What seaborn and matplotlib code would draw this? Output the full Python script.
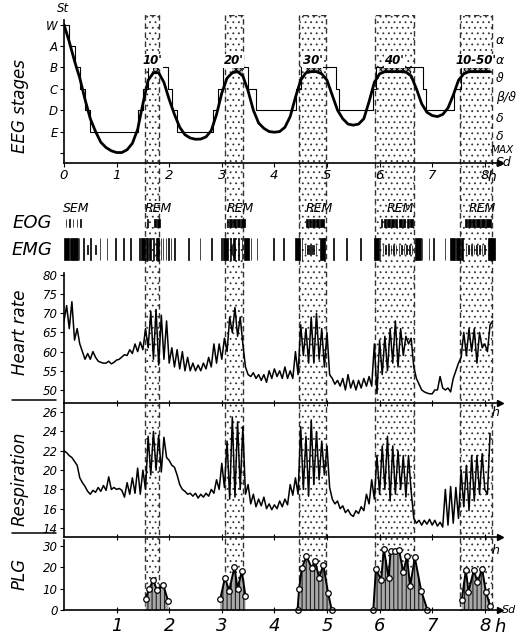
import numpy as np
import seaborn as sns
import matplotlib.pyplot as plt
from matplotlib.lines import Line2D

# REM periods (hours) and their length labels
rem_start = [1.54, 3.06, 4.47, 5.91, 7.53]
rem_end = [1.81, 3.40, 4.98, 6.65, 8.14]
rem_length = ["10'", "20'", "30'", "40'", "10-50'"]

stage_labels = ['', 'E', 'D', 'C', 'B', 'A', 'W']  # levels 0..6

# stepped hypnogram: time of each change (h) and stage reached
step_t = [0.0, 0.1, 0.2, 0.3, 0.4, 0.5, 1.4, 1.5, 1.6, 1.97, 2.05, 2.15, 2.83, 2.93,
          3.02, 3.5, 3.65, 4.41, 4.5, 5.17, 5.23, 5.87, 5.93, 6.83, 6.88, 7.41, 7.55, 8.16]
step_lvl = [6, 5, 4, 3, 2, 1, 2, 3, 4, 3, 2, 1, 2, 3,
            4, 3, 2, 3, 4, 3, 2, 3, 4, 3, 2, 3, 4, 4]

# smoothed sleep depth curve, every 0.1 h
eeg_curve = [6.0, 5.2, 4.3, 3.5, 2.5, 1.6, 1.0, 0.5, 0.25, 0.1,
             0.02, 0.02, 0.15, 0.45, 1.1, 2.3, 3.4, 3.75, 3.75, 3.3,
             2.5, 1.8, 1.2, 0.85, 0.7, 0.64, 0.65, 0.75, 1.05, 1.8,
             2.8, 3.5, 3.75, 3.8, 3.6, 2.9, 2.0, 1.4, 1.15, 1.0,
             0.97, 1.0, 1.2, 1.7, 2.6, 3.4, 3.75, 3.8, 3.8, 3.7,
             3.4, 2.7, 2.0, 1.6, 1.35, 1.3, 1.35, 1.6, 2.4, 3.3,
             3.7, 3.8, 3.8, 3.8, 3.8, 3.78, 3.6, 3.0, 2.3, 1.9,
             1.75, 1.7, 1.8, 2.1, 2.7, 3.4, 3.7, 3.8, 3.8, 3.8,
             3.8, 3.8]
eeg_t = np.round(np.arange(len(eeg_curve)) * 0.1, 2)

# heart rate (beats/min), every 0.05 h
hr = [68, 72, 66, 73, 63, 66, 62, 60, 58, 59.5,
      58, 60, 58.5, 57.5, 57.2, 57, 57, 57.5, 56.8, 57.2,
      57.8, 58, 58.6, 59.2, 59, 60.5, 59.5, 62, 60, 62.5,
      60.5, 66, 61, 70.5, 58, 71, 56.5, 69.5, 58, 68,
      57, 61, 56, 60.5, 55.5, 60, 55, 58.5, 55, 57,
      55, 56.5, 55, 57, 55.5, 58.5, 56, 62, 57, 62,
      58, 63.5, 60, 69, 65, 71.5, 64, 69, 62, 56,
      54, 53.5, 54.5, 53, 54, 52.5, 54, 52, 55, 53,
      55.5, 53.5, 55, 53, 56, 53, 55, 53, 60, 54,
      67, 59, 66, 57, 69, 57, 70, 58, 66, 56,
      65, 54, 53, 51.5, 52.5, 51, 53, 50, 54, 50.5,
      52.5, 50, 52.5, 50.5, 53, 51, 53.5, 51, 62, 49,
      63, 54, 64, 55, 66, 57, 68, 56, 66, 59,
      64, 62, 63.5, 56, 53, 51.5, 50, 49.5, 49.2, 49,
      49, 50, 50, 53.5, 50.5, 50, 50.5, 49.5, 53, 55,
      57, 58.5, 65, 59, 66, 60, 66, 57, 65, 61,
      62, 60, 67, 68]
hr_t = np.round(np.arange(len(hr)) * 0.05, 2)

# respiration (breaths/min), every 0.05 h
resp = [22, 21.8, 21.5, 21.3, 20.9, 20.5, 19.2, 18.7, 18.3, 17.8,
        17.5, 17.9, 17.7, 18.2, 17.8, 18.4, 17.9, 19.3, 18, 18.2,
        18, 18.1, 17.9, 17.2, 18.7, 17.5, 19.2, 17.6, 20.2, 17.5,
        20, 18, 23.5, 19.5, 24, 20, 23.6, 19.8, 23.4, 21.3,
        21, 20.5, 20.3, 19.5, 18.5, 18, 17.8, 17.5, 17.6, 17.3,
        17.6, 17.1, 17.5, 17.2, 17.6, 17.3, 18, 17.6, 19, 18,
        20.7, 18.2, 23, 17, 25.5, 17.2, 25, 18, 24.5, 17.5,
        18.5, 16.5, 17.5, 16.2, 17, 16.3, 17.2, 16, 16.5, 15.9,
        16.4, 16, 16.8, 16.2, 17, 16.4, 18.5, 17.4, 19.2, 17.5,
        24.5, 18, 23.5, 17.3, 25.2, 18.5, 24, 19, 23, 19.5,
        22.5, 18.2, 17, 16.5, 16.8, 16, 16.3, 15.6, 15.9, 15.4,
        15.2, 15.8, 15.5, 16.2, 15.8, 17.5, 16.5, 19, 17, 21.5,
        17.5, 22.5, 18, 23.5, 16.8, 22.5, 17.5, 22, 18, 21.5,
        17.2, 21.5, 17.8, 15, 14.5, 14.8, 14.3, 14.8, 14.4, 14.9,
        14.3, 14.8, 14.2, 14.6, 14.1, 18, 14.3, 18.3, 14.5, 18.2,
        15, 20, 16.2, 20.5, 15.8, 21.5, 16.8, 21.5, 17.5, 21.7,
        18, 17.5, 23.8]
resp_t = np.round(np.arange(len(resp)) * 0.05, 2)

# penile plethysmography during each REM period
plg_t = [[1.55, 1.62, 1.70, 1.76, 1.89, 1.98],
         [2.97, 3.06, 3.14, 3.24, 3.30, 3.38, 3.45],
         [4.44, 4.47, 4.52, 4.61, 4.71, 4.77, 4.85, 4.93, 5.02, 5.09],
         [5.88, 5.93, 6.03, 6.08, 6.17, 6.21, 6.29, 6.37, 6.45, 6.52, 6.58, 6.67, 6.79, 6.91],
         [7.56, 7.64, 7.69, 7.79, 7.86, 7.95, 8.02, 8.10]]
plg_v = [[5, 10, 14, 9.5, 11.5, 4],
         [5, 15, 9, 20, 10, 18, 6.5],
         [0, 10, 19.5, 25, 19.5, 23, 15, 21, 8, 0],
         [0, 19, 14, 28.5, 15, 27.5, 27.5, 28, 17.5, 25, 11, 24.5, 9, 0],
         [4.5, 18.5, 8.5, 18.5, 13, 19, 8.5, 2]]

# EOG eye movement bursts (start, duration in h)
eog_start = [0.03, 0.10, 0.17, 0.24, 0.31, 1.58, 1.71, 1.77,
             3.10, 3.14, 3.22, 3.29, 3.37, 4.60, 4.66, 4.72, 4.80, 4.87,
             6.03, 6.08, 6.15, 6.22, 6.30, 6.36, 6.45, 6.52, 6.58,
             7.62, 7.68, 7.76, 7.84, 7.93, 8.02]
eog_dur = [0.01, 0.01, 0.01, 0.01, 0.01, 0.01, 0.04, 0.05,
           0.01, 0.06, 0.05, 0.06, 0.07, 0.04, 0.04, 0.06, 0.05, 0.08,
           0.01, 0.05, 0.04, 0.05, 0.04, 0.07, 0.04, 0.04, 0.06,
           0.04, 0.06, 0.06, 0.07, 0.07, 0.1]

# EMG bursts (start, duration in h) and low-amplitude twitches inside REM
emg_start = [0.0, 0.11, 0.18, 0.23, 0.28, 0.37, 0.50, 0.68, 0.81, 0.97, 1.13, 1.26,
             1.42, 1.46, 1.56, 1.62, 1.70, 1.75, 1.84, 1.88, 1.93, 1.98, 2.03, 2.10,
             2.36, 2.58, 2.80, 2.98, 3.02, 3.16, 3.22, 3.30, 3.38, 3.43, 3.55,
             3.66, 3.98, 4.17, 4.39, 4.52, 4.86, 5.12, 5.37, 5.63,
             5.90, 6.00, 6.68, 6.80, 6.93, 7.02, 7.24, 7.33, 7.45, 7.55, 8.06]
emg_dur = [0.1, 0.06, 0.04, 0.03, 0.01, 0.01, 0.01, 0.01, 0.01, 0.01, 0.01, 0.01,
           0.02, 0.08, 0.03, 0.04, 0.01, 0.06, 0.01, 0.01, 0.01, 0.01, 0.01, 0.01,
           0.01, 0.01, 0.01, 0.02, 0.1, 0.01, 0.04, 0.03, 0.01, 0.08, 0.01,
           0.01, 0.01, 0.01, 0.1, 0.01, 0.1, 0.01, 0.01, 0.01,
           0.08, 0.01, 0.1, 0.01, 0.01, 0.01, 0.01, 0.1, 0.08, 0.04, 0.14]
emg_low = [0.44, 0.59, 3.18, 3.25, 4.58, 4.62, 4.66, 4.70, 4.74, 4.79,
           6.06, 6.11, 6.16, 6.21, 6.26, 6.31, 6.36, 6.41, 6.46, 6.51, 6.56, 6.61,
           7.64, 7.69, 7.74, 7.79, 7.84, 7.89, 7.94, 7.99]

# ---------------------------------------------------------------------------
sns.set_style('ticks')
plt.rcParams['font.family'] = ['DejaVu Sans']
plt.rcParams['font.style'] = 'italic'
plt.rcParams['axes.linewidth'] = 1.2
for key in ('text.color', 'axes.labelcolor', 'xtick.color', 'ytick.color', 'axes.edgecolor'):
    plt.rcParams[key] = 'black'

FW, FH = 516, 637
XMAX = (500 - 64) / 52.6

fig = plt.figure(figsize=(5.16, 6.37), dpi=100)


def box(top, bottom, left=64, right=500):
    return [left / FW, 1 - bottom / FH, (right - left) / FW, (bottom - top) / FH]


def ftext(x, y, s, **kw):
    fig.text(x / FW, 1 - y / FH, s, ha=kw.pop('ha', 'center'), va=kw.pop('va', 'center'), **kw)


def arrow(ax):
    ax.plot(1, 0, marker='>', color='k', ms=4, transform=ax.transAxes, clip_on=False)


# stippled REM bands running through every panel
ax_band = fig.add_axes(box(15, 611), zorder=0)
ax_band.set_xlim(0, XMAX)
ax_band.set_ylim(0, 1)
ax_band.axis('off')
with plt.rc_context({'hatch.linewidth': 0.6}):
    for s, e in zip(rem_start, rem_end):
        ax_band.axvspan(s, e, facecolor='white', edgecolor='#333333', hatch='...',
                        linestyle=(0, (4, 2.5)), linewidth=1.0)

# EEG stages
ax_eeg = fig.add_axes(box(15, 163), zorder=2)
ax_eeg.patch.set_alpha(0)
sns.lineplot(x=step_t, y=step_lvl, drawstyle='steps-post', color='k', lw=0.8,
             estimator=None, ax=ax_eeg)
sns.lineplot(x=eeg_t, y=eeg_curve, color='k', lw=2.0, estimator=None, ax=ax_eeg)
c = np.array(eeg_curve)
with plt.rc_context({'hatch.linewidth': 0.7}):
    for s, e, lab in zip(rem_start, rem_end, rem_length):
        m = (eeg_t >= s - 0.05) & (eeg_t <= e + 0.05) & (c > 3.5)
        ax_eeg.fill_between(eeg_t, c, 4, where=m, interpolate=True, facecolor='#bbbbbb',
                            edgecolor='k', hatch='xxxxxx', lw=0)
        ax_eeg.text((s + e) / 2, 4.3, lab, ha='center', va='center', fontsize=8.5,
                    fontweight='bold',
                    bbox=dict(facecolor='white', edgecolor='none', pad=0.3))
ax_eeg.set_xlim(0, XMAX)
ax_eeg.set_ylim(-0.47, 6.45)
ax_eeg.set_yticks(range(7))
ax_eeg.set_yticklabels(stage_labels, fontsize=8.5)
ax_eeg.set_xticks(range(9))
ax_eeg.set_xticklabels([str(i) for i in range(9)], fontsize=9.5)
ax_eeg.set_xlabel('')
ax_eeg.set_ylabel('')
sns.despine(ax=ax_eeg)
ax_eeg.spines['left'].set_bounds(-0.47, 6.2)
ax_eeg.tick_params(length=3, width=0.8, pad=1.5)
arrow(ax_eeg)

# EOG / EMG event rows
ax_ev = fig.add_axes(box(200, 262), zorder=2)
ax_ev.set_xlim(0, XMAX)
ax_ev.set_ylim(262, 200)
ax_ev.axis('off')
ax_ev.broken_barh(list(zip(eog_start, eog_dur)), (219, 8), facecolor='k', edgecolor='k', lw=0.5)
ax_ev.broken_barh(list(zip(emg_start, emg_dur)), (238, 22), facecolor='k', edgecolor='k', lw=0.5)
ax_ev.broken_barh([(t, 0.01) for t in emg_low], (245, 9), facecolor='k', edgecolor='k', lw=0.5)
ax_ev.text(0.23, 209, 'SEM', ha='center', va='center', fontsize=9)
for s, e in zip(rem_start, rem_end):
    ax_ev.text((s + e) / 2 + 0.12, 209, 'REM', ha='center', va='center', fontsize=9)

# heart rate
ax_hr = fig.add_axes(box(273, 403), zorder=2)
ax_hr.patch.set_alpha(0)
sns.lineplot(x=hr_t, y=hr, color='k', lw=1.1, estimator=None, ax=ax_hr)
ax_hr.set_ylim(46.6, 80.5)
ax_hr.set_yticks(range(50, 81, 5))

# respiration
ax_rs = fig.add_axes(box(403, 537), zorder=2)
ax_rs.patch.set_alpha(0)
sns.lineplot(x=resp_t, y=resp, color='k', lw=1.1, estimator=None, ax=ax_rs)
ax_rs.set_ylim(13.07, 26.95)
ax_rs.set_yticks(range(14, 27, 2))

# PLG
ax_plg = fig.add_axes(box(537, 610), zorder=2)
ax_plg.patch.set_alpha(0)
with plt.rc_context({'hatch.linewidth': 0.8}):
    for t, v in zip(plg_t, plg_v):
        ax_plg.fill_between(t, v, 0, facecolor='#a8a8a8', edgecolor='#222222',
                            hatch='||||', lw=0)
for t, v in zip(plg_t, plg_v):
    sns.lineplot(x=t, y=v, color='k', lw=1.4, marker='o', ms=4, mfc='white', mec='k',
                 mew=0.9, estimator=None, ax=ax_plg, clip_on=False)
ax_plg.set_ylim(0, 34)
ax_plg.set_yticks([0, 10, 20, 30])
ax_plg.spines['left'].set_bounds(0, 32.5)

for ax in (ax_hr, ax_rs, ax_plg):
    ax.set_xlim(0, XMAX)
    ax.set_xticks(range(1, 9))
    ax.set_xlabel('')
    ax.set_ylabel('')
    for side in ('top', 'right'):
        ax.spines[side].set_visible(False)
    ax.tick_params(axis='y', length=3, width=0.8, pad=1.5, labelsize=8.5)
    ax.tick_params(axis='x', direction='inout', length=4, width=0.8)
    arrow(ax)
ax_hr.set_xticklabels([])
ax_rs.set_xticklabels([])
ax_plg.set_xticklabels([str(i) for i in range(1, 9)], fontsize=13)
ax_plg.tick_params(axis='x', pad=3)
ax_hr.spines['left'].set_bounds(46.6, 80.5)

# separators in the left margin
for y in (400, 533):
    fig.add_artist(Line2D([12 / FW, 56 / FW], [1 - y / FH] * 2, color='k', lw=1.1))

# panel titles and free labels
ftext(20, 106, 'EEG stages', rotation=90, fontsize=12)
ftext(32, 223, 'EOG', fontsize=13)
ftext(32, 250, 'EMG', fontsize=13)
ftext(20, 332, 'Heart rate', rotation=90, fontsize=12)
ftext(20, 479, 'Respiration', rotation=90, fontsize=12)
ftext(20, 574, 'PLG', rotation=90, fontsize=12)
ftext(63, 9, 'St', fontsize=8.5)
for y, s in [(40, 'α'), (60, 'α'), (78, 'ϑ'), (97, 'β/ϑ'), (118, 'δ'), (136, 'δ'),
             (163, 'Sd')]:
    ftext(496, y, s, ha='left', fontsize=9)
ftext(491, 150, 'MAX', ha='left', fontsize=7.5)
ftext(492, 177, 'h', fontsize=10)
ftext(495, 413, 'h', fontsize=9)
ftext(495, 550, 'h', fontsize=9)
ftext(502, 610, 'Sd', ha='left', fontsize=8)
ftext(500, 627, 'h', fontsize=13)

fig.savefig('out.png', dpi=100, facecolor='white')
